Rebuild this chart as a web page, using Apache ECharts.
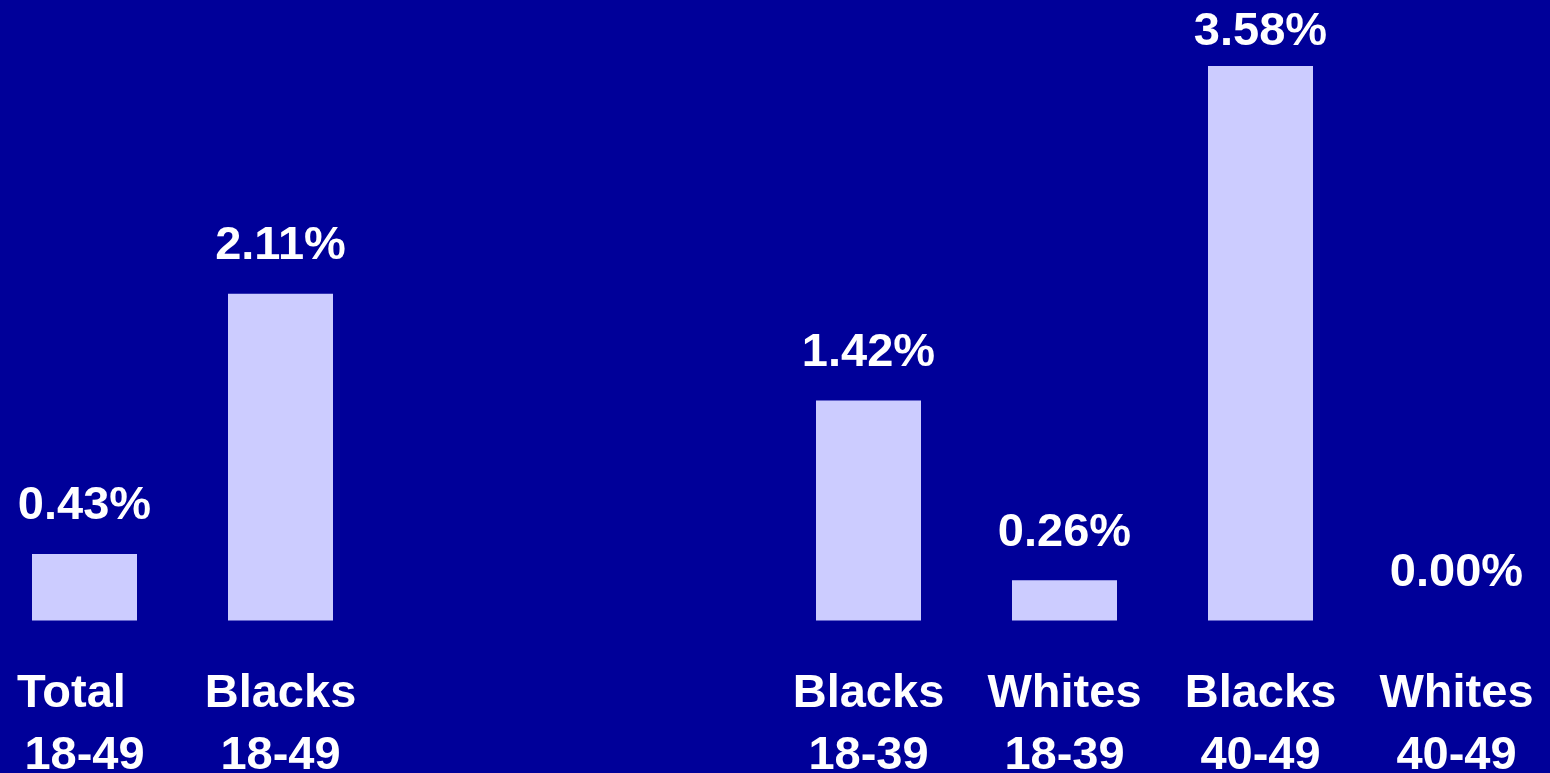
<!DOCTYPE html>
<html>
<head>
<meta charset="utf-8">
<script src="https://cdn.jsdelivr.net/npm/echarts@6/dist/echarts.min.js"></script>
<style>
html,body{margin:0;padding:0;background:#000099;}
#chart{width:1550px;height:773px;}
</style>
</head>
<body>
<div id="chart"></div>
<script>
var categories = ['Total  \n18-49', 'Blacks\n18-49', '', '', 'Blacks\n18-39', 'Whites\n18-39', 'Blacks\n40-49', 'Whites\n40-49'];
var values = [0.43, 2.11, null, null, 1.42, 0.26, 3.58, 0.00];
var yMin = 0;
var yMax = 4;

var chart = echarts.init(document.getElementById('chart'));
var fontFam = '"Liberation Sans", Arial, sans-serif';
var data = values.map(function (v) {
  if (v === null) return { value: null };
  var item = { value: v };
  if (v > 3.5) item.label = { distance: 11 };
  return item;
});
chart.setOption({
  backgroundColor: '#000099',
  animation: false,
  grid: { left: -13.5, right: -4.5, top: 1, bottom: 152.5, containLabel: false, outerBoundsMode: 'none' },
  xAxis: {
    type: 'category',
    data: categories,
    axisLine: { show: false },
    axisTick: { show: false },
    axisLabel: {
      interval: 0,
      color: '#ffffff',
      fontFamily: fontFam,
      fontWeight: 'bold',
      fontSize: 47,
      lineHeight: 62,
      margin: 42.5,
      hideOverlap: false
    }
  },
  yAxis: {
    type: 'value',
    min: yMin,
    max: yMax,
    show: false,
    splitLine: { show: false }
  },
  series: [{
    type: 'bar',
    data: data,
    barWidth: 105,
    itemStyle: { color: '#CCCCFF' },
    label: {
      show: true,
      position: 'top',
      distance: 24,
      color: '#ffffff',
      fontFamily: fontFam,
      fontWeight: 'bold',
      fontSize: 47,
      formatter: function (p) { return p.value === null ? '' : p.value.toFixed(2) + '%'; }
    }
  }]
});
</script>
</body>
</html>
